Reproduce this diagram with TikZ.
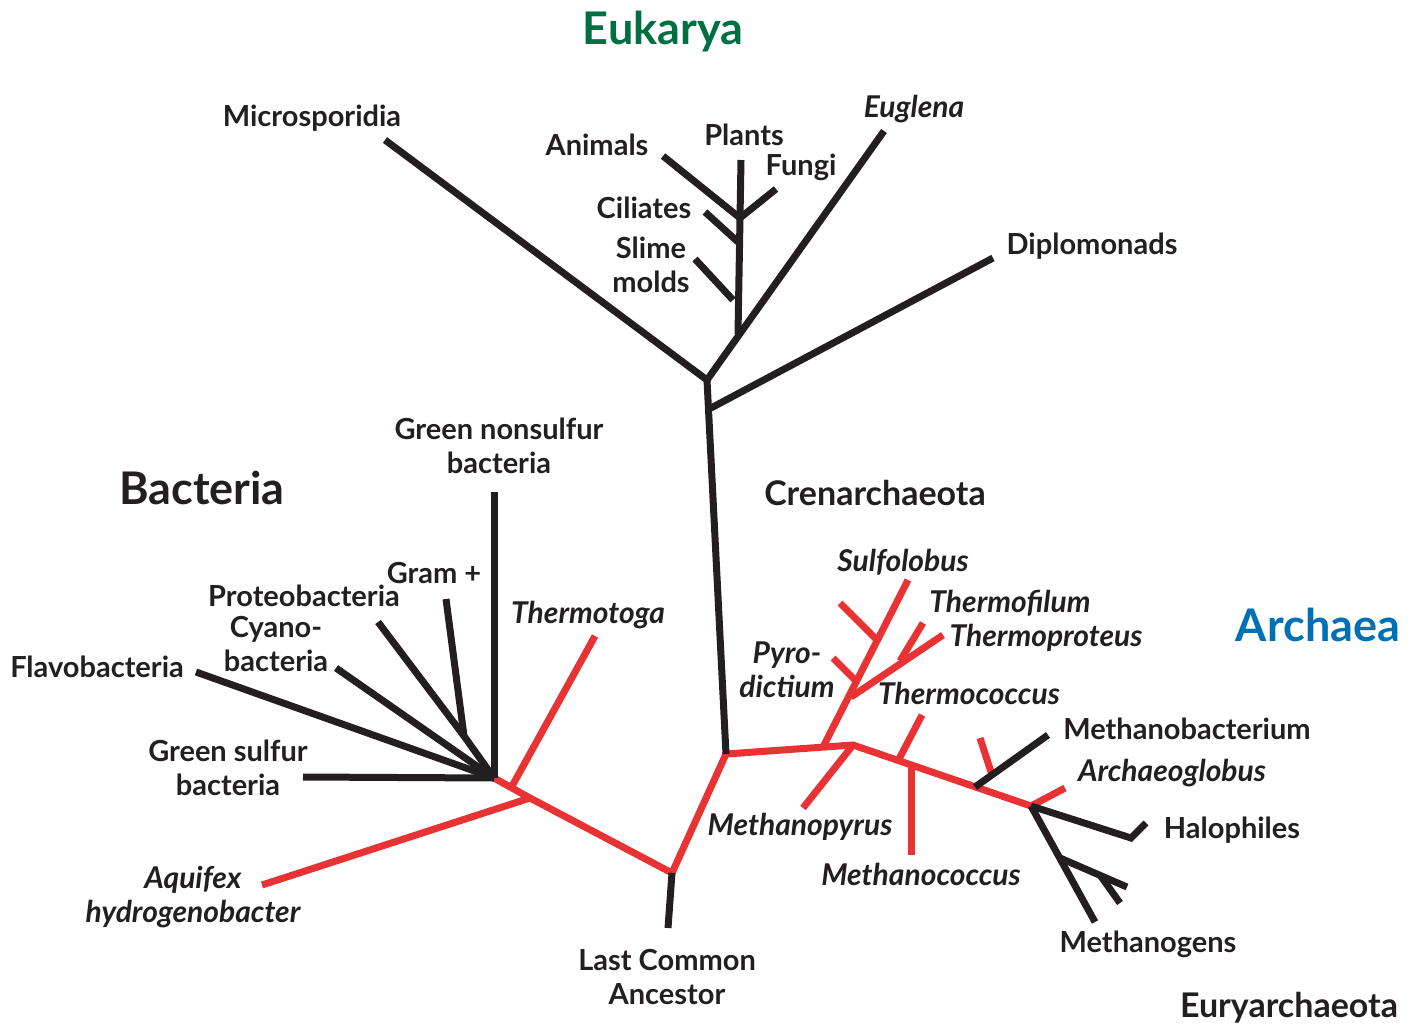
\documentclass[tikz,border=0pt]{standalone}
\usepackage{fontspec}
\setmainfont{Lato}
\usepackage{tikz}
\usetikzlibrary{positioning}
\definecolor{treeblack}{RGB}{35,31,32}
\definecolor{treered}{RGB}{232,50,52}
\definecolor{eukgreen}{RGB}{0,112,66}
\definecolor{archblue}{RGB}{0,112,182}

\begin{document}
\begin{tikzpicture}[
  x=1pt,y=-1pt,
  blk/.style={draw=treeblack,line width=7pt},
  hot/.style={draw=treered,line width=7pt},
  lbl/.style={inner sep=0pt,align=center,text=treeblack,font=\fontsize{29}{34}\selectfont\bfseries},
  ital/.style={lbl,font=\fontsize{30}{34}\selectfont\bfseries\itshape},
  clade/.style={lbl,font=\fontsize{34}{38}\selectfont\bfseries},
  realm/.style={lbl,font=\fontsize{45}{50}\selectfont\bfseries}
]
\useasboundingbox (0,0) rectangle (1421,1027);

% eukarya
\coordinate (eRoot) at (707,380);
\coordinate (eMicro) at (385,140);
\coordinate (eDiploJ) at (711,408);
\coordinate (eDiplo) at (993,258);
\coordinate (eEugl) at (884,131);
\coordinate (eCrown) at (738,334);
\coordinate (ePlants) at (741,160);
\coordinate (eAnimJ) at (740,218);
\coordinate (eAnim) at (663,156);
\coordinate (eFungi) at (776,189);
\coordinate (eCilJ) at (738,242);
\coordinate (eCil) at (705,212);
\coordinate (eSlimeJ) at (733,300);
\coordinate (eSlime) at (695,259);

% bacteria
\coordinate (bHub) at (494,778);
\coordinate (bGNS) at (494,492);
\coordinate (bGramJ) at (464,736);
\coordinate (bGram) at (446,599);
\coordinate (bProteo) at (378,622);
\coordinate (bCyano) at (336,668);
\coordinate (bFlavo) at (196,672);
\coordinate (bGSB) at (303,777);
\coordinate (bAqJ) at (530,798);
\coordinate (bThJ) at (511,788);
\coordinate (bThermo) at (595,636);
\coordinate (bAquifex) at (262,885);

% root
\coordinate (lca) at (672,873);
\coordinate (lcaStub) at (668,928);
\coordinate (aJoin) at (726,754);

% archaea
\coordinate (cJoin) at (823,747);
\coordinate (aFork) at (853,745);
\coordinate (cSulf) at (908,580);
\coordinate (cSideJ) at (877,640);
\coordinate (cSide) at (840,603);
\coordinate (cPyroJ) at (858,683);
\coordinate (cPyro) at (833,658);
\coordinate (cTpJ) at (851,697);
\coordinate (cTprot) at (943,635);
\coordinate (cTfJ) at (900,661);
\coordinate (cTfil) at (923,623);
\coordinate (aMpyro) at (803,808);
\coordinate (aTcJ) at (898,761);
\coordinate (aTcoc) at (922,715);
\coordinate (aMcJ) at (911,765);
\coordinate (aMcoc) at (911,855);
\coordinate (aMbJ) at (975,787);
\coordinate (aMb) at (1048,735);
\coordinate (aStubJ) at (992,775);
\coordinate (aStub) at (980,738);
\coordinate (aEnd) at (1031,806);
\coordinate (aArch) at (1065,788);
\coordinate (aHalo) at (1131,838);
\coordinate (aHaloT) at (1146,823);
\coordinate (aMg) at (1095,922);
\coordinate (aMgJ) at (1060,858);
\coordinate (aMgB) at (1127,887);
\coordinate (aMgSJ) at (1100,875);
\coordinate (aMgS) at (1120,903);

% red lines
\draw[hot] (bHub) -- (bAqJ) -- (lca) -- (aJoin) -- (aFork) -- (aEnd);
\draw[hot] (bThJ) -- (bThermo);
\draw[hot] (bAqJ) -- (bAquifex);
\draw[hot] (cJoin) -- (cSulf);
\draw[hot] (cSideJ) -- (cSide);
\draw[hot] (cPyroJ) -- (cPyro);
\draw[hot] (cTpJ) -- (cTprot);
\draw[hot] (cTfJ) -- (cTfil);
\draw[hot] (aMpyro) -- (aFork);
\draw[hot] (aTcJ) -- (aTcoc);
\draw[hot] (aMcJ) -- (aMcoc);
\draw[hot] (aStubJ) -- (aStub);
\draw[hot] (aEnd) -- (aArch);

% black lines
\draw[blk] (eMicro) -- (eRoot) -- (aJoin);
\draw[blk] (eRoot) -- (eEugl);
\draw[blk] (eDiploJ) -- (eDiplo);
\draw[blk] (eCrown) -- (ePlants);
\draw[blk] (eAnim) -- (eAnimJ) -- (eFungi);
\draw[blk] (eCil) -- (eCilJ);
\draw[blk] (eSlime) -- (eSlimeJ);
\draw[blk] (bHub) -- (bGNS);
\draw[blk] (bHub) -- (bGramJ) -- (bGram);
\draw[blk] (bGramJ) -- (bProteo);
\draw[blk] (bHub) -- (bCyano);
\draw[blk] (bHub) -- (bFlavo);
\draw[blk] (bHub) -- (bGSB);
\draw[blk] (lca) -- (lcaStub);
\draw[blk] (aMbJ) -- (aMb);
\draw[blk] (aEnd) -- (aHalo) -- (aHaloT);
\draw[blk] (aEnd) -- (aMg);
\draw[blk] (aMgJ) -- (aMgB);
\draw[blk] (aMgSJ) -- (aMgS);

% domains and groups
\node[realm,text=eukgreen] (tEuk) at (663,32) {Eukarya};
\node[realm] (tBac) at (202,488) {Bacteria};
\node[realm,text=archblue] (tArc) at (1318,625) {Archaea};
\node[clade] (tCren) at (875,493) {Crenarchaeota};
\node[clade] (tEury) at (1289,1008) {Euryarchaeota};

% labels
\node[lbl] (lMicro) at (312,118) {Microsporidia};
\node[lbl] (lAnim) at (597,145) {Animals};
\node[lbl] (lPlants) at (744,135) {Plants};
\node[lbl] (lFungi) at (801,167) {Fungi};
\node[ital] (lEugl) at (914,109) {Euglena};
\node[lbl] (lCil) at (644,208) {Ciliates};
\node[lbl] (lSlime) at (651,265) {Slime\\molds};
\node[lbl] (lDiplo) at (1092,246) {Diplomonads};
\node[lbl] (lGNS) at (499,446) {Green nonsulfur\\bacteria};
\node[lbl] (lGram) at (434,573) {Gram +};
\node[lbl] (lProteo) at (304,596) {Proteobacteria};
\node[lbl] (lCyano) at (276,644) {Cyano-\\bacteria};
\node[lbl] (lFlavo) at (97,667) {Flavobacteria};
\node[lbl] (lGSB) at (228,768) {Green sulfur\\bacteria};
\node[ital] (lThermo) at (588,615) {Thermotoga};
\node[ital] (lAquifex) at (193,897) {Aquifex\\hydrogenobacter};
\node[lbl] (lLca) at (667,977) {Last Common\\Ancestor};
\node[ital] (lSulf) at (903,562) {Sulfolobus};
\node[ital] (lTfil) at (1010,603) {Thermofilum};
\node[ital] (lTprot) at (1046,638) {Thermoproteus};
\node[ital] (lPyro) at (787,670) {Pyro-\\dictium};
\node[ital] (lTcoc) at (969,693) {Thermococcus};
\node[lbl] (lMb) at (1187,729) {Methanobacterium};
\node[ital] (lArch) at (1172,773) {Archaeoglobus};
\node[lbl] (lHalo) at (1232,830) {Halophiles};
\node[ital] (lMpyro) at (800,827) {Methanopyrus};
\node[ital] (lMcoc) at (921,874) {Methanococcus};
\node[lbl] (lMg) at (1148,944) {Methanogens};
\end{tikzpicture}
\end{document}
